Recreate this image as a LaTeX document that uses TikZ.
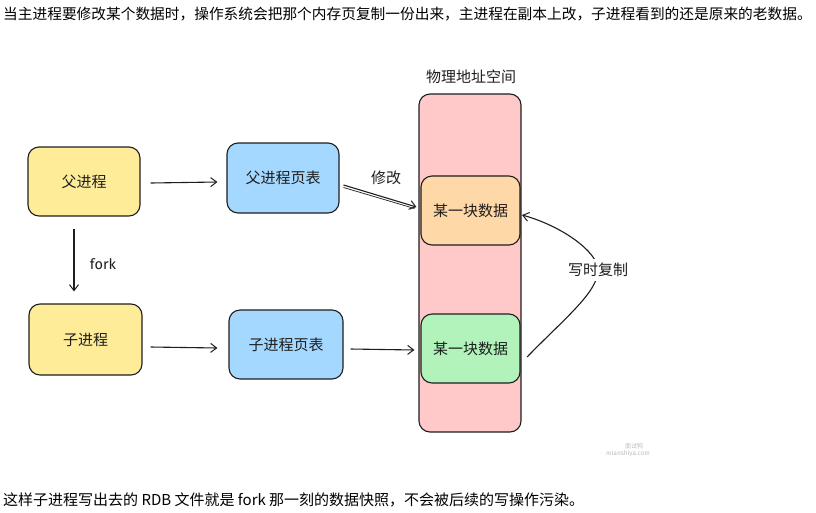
\documentclass[tikz,border=0pt]{standalone}
\usepackage{fontspec}
\setmainfont{Noto Sans CJK SC}
\newfontfamily\cjk{Noto Sans CJK SC}
\newfontfamily\hand{Fira Sans}
\usetikzlibrary{arrows.meta,calc}
\definecolor{ink}{HTML}{1E1E1E}
\definecolor{pinkf}{HTML}{FFC9C9}
\definecolor{orangef}{HTML}{FFD8A8}
\definecolor{greenf}{HTML}{B2F2BB}
\definecolor{yellowf}{HTML}{FFEC99}
\definecolor{bluef}{HTML}{A5D8FF}
\definecolor{txt}{HTML}{1E1E1E}
\tikzset{
  boxnode/.style={draw=ink, line width=1.1pt, rounded corners=11pt, inner sep=0pt,
    font=\cjk\fontsize{15}{18}\selectfont, text=txt},
  conn/.style={draw=ink, line width=1.1pt, -{Straight Barb[length=6pt,width=9pt,line width=1pt]}},
  lbl/.style={font=\cjk\fontsize{15}{18}\selectfont, text=txt, inner sep=1pt},
  para/.style={font=\cjk\fontsize{15}{18}\selectfont, text=black, anchor=base west, inner sep=0pt}
}
\begin{document}
\begin{tikzpicture}[x=1pt,y=-1pt]
\useasboundingbox (0,0) rectangle (816,512);
\clip (0,0) rectangle (816,512);
\fill[white] (0,0) rectangle (816,512);

% paragraphs
\node[para, font=\cjk\fontsize{14.7}{18}\selectfont] (top) at (3,19) {当主进程要修改某个数据时，操作系统会把那个内存页复制一份出来，主进程在副本上改，子进程看到的还是原来的老数据。};
\node[para] (bot) at (3,505) {这样子进程写出去的 RDB 文件就是 fork 那一刻的数据快照，不会被后续的写操作污染。};

% physical address space
\node[lbl] (title) at (471,77) {物理地址空间};
\node[boxnode, fill=pinkf, minimum width=102pt, minimum height=338pt] (mem) at (470,263) {};
\node[boxnode, fill=orangef, minimum width=99pt, minimum height=69pt] (orig) at (470.5,210.5) {某一块数据};
\node[boxnode, fill=greenf, minimum width=99pt, minimum height=69pt] (copy) at (470.5,348.5) {某一块数据};

% processes
\node[boxnode, fill=yellowf, minimum width=112pt, minimum height=69pt] (parent) at (84,181.5) {父进程};
\node[boxnode, fill=bluef, minimum width=112pt, minimum height=70pt] (ppt) at (283,178) {父进程页表};
\node[boxnode, fill=yellowf, minimum width=113pt, minimum height=71pt] (child) at (85.5,339.5) {子进程};
\node[boxnode, fill=bluef, minimum width=114pt, minimum height=69pt] (cpt) at (286,344.5) {子进程页表};

% connectors
\draw[conn] ($(parent.east)+(10,1.5)$) -- ($(ppt.west)+(-9,4)$);
\draw[conn] ($(parent.south)+(-10,12)$) -- ($(child.north)+(-11.5,-12)$);
\node[font=\hand\fontsize{14.5}{16}\selectfont, text=txt] (forklbl) at (103,264) {fork};
\draw[conn] ($(child.east)+(8,7.5)$) -- ($(ppt.west |- child.east)+(-9,8.5)$);
\draw[conn] ($(cpt.east)+(7,4.5)$) -- ($(copy.west)+(-6,1.5)$);
\draw[conn] ($(ppt.east)+(4,7)$) -- ($(orig.west)+(-4,-3.5)$);
\draw[draw=ink, line width=0.7pt] ($(ppt.east)+(4,9.5)$) -- ($(orig.west)+(-6,-2)$);
\node[lbl] (modlbl) at (386,178) {修改};

% copy-on-write curve
\coordinate (cowmid) at (598,270);
\draw[conn] ($(copy.east)+(6.5,8.5)$) .. controls (565,318) and (598,292) .. (cowmid)
  .. controls (598,252) and (562,226) .. ($(orig.east)+(1.5,4.5)$);
\node[lbl, fill=white, inner sep=4pt] (cowlbl) at (cowmid) {写时复制};

% watermark
\node[font=\cjk\fontsize{6}{7}\selectfont, text=black!25] (wm1) at (634,446) {面试鸭};
\node[font=\hand\fontsize{6.5}{7}\selectfont, text=black!25] (wm2) at (628,454) {mianshiya.com};
\end{tikzpicture}
\end{document}
